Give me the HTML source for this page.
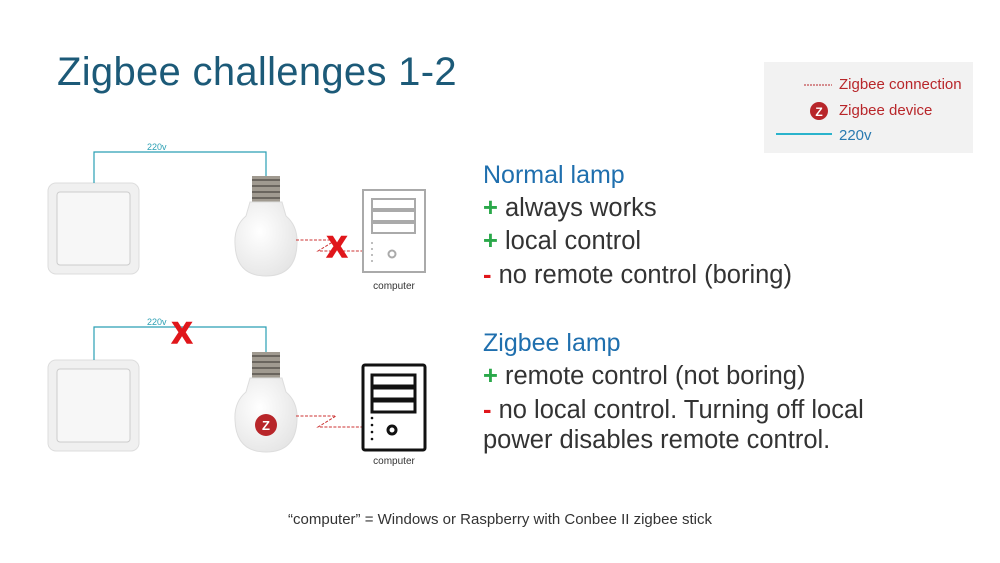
<!DOCTYPE html>
<html><head><meta charset="utf-8"><style>
body{margin:0;width:1000px;height:563px;background:#fff;font-family:"Liberation Sans",sans-serif;position:relative;overflow:hidden}
.t{position:absolute;white-space:nowrap}
.h{color:#1f6fae;font-size:25px}
.l{color:#333;font-size:25.5px}
.p{color:#2aa84a;font-weight:bold}
.m{color:#e0161b;font-weight:bold}
</style></head><body>
<div class="t" style="left:57px;top:50px;font-size:40px;color:#1c5a78;letter-spacing:0.3px">Zigbee challenges 1-2</div>
<div style="position:absolute;left:764px;top:62px;width:209px;height:91px;background:#f2f2f2"></div>
<div class="t" style="left:839px;top:76px;font-size:15px;color:#b8262a">Zigbee connection</div>
<div class="t" style="left:839px;top:102px;font-size:15px;color:#b8262a">Zigbee device</div>
<div class="t" style="left:839px;top:127px;font-size:15px;color:#2a7ab0">220v</div>
<div class="t h" style="left:483px;top:161px">Normal lamp</div>
<div class="t l" style="left:483px;top:194px"><span class="p">+</span> always works</div>
<div class="t l" style="left:483px;top:227px"><span class="p">+</span> local control</div>
<div class="t l" style="left:483px;top:261px"><span class="m">-</span> no remote control (boring)</div>
<div class="t h" style="left:483px;top:329px">Zigbee lamp</div>
<div class="t l" style="left:483px;top:362px"><span class="p">+</span> remote control (not boring)</div>
<div class="t l" style="left:483px;top:396px"><span class="m">-</span> no local control. Turning off local</div>
<div class="t l" style="left:483px;top:426px">power disables remote control.</div>
<div class="t" style="left:0;width:1000px;text-align:center;top:511px;font-size:15px;color:#333">“computer” = Windows or Raspberry with Conbee II zigbee stick</div>
<svg width="1000" height="563" style="position:absolute;left:0;top:0" font-family="Liberation Sans">
<defs>
<radialGradient id="g" cx="0.4" cy="0.4" r="0.7"><stop offset="0" stop-color="#fff"/><stop offset="1" stop-color="#e4e4e4"/></radialGradient>
<g id="sw"><rect x="0" y="0" width="91" height="91" rx="8" fill="#f0f0f0" stroke="#ddd"/><rect x="9" y="9" width="73" height="73" rx="3" fill="#f7f7f7" stroke="#ccc"/></g>
<g id="bulb"><rect x="-14" y="0" width="28" height="26" fill="#a09a90"/><path d="M-14 4h28M-14 10h28M-14 16h28M-14 22h28" stroke="#6a655e" stroke-width="2"/><path d="M-16 26 L16 26 L20 40 Q32 50 31 68 Q30 100 0 100 Q-30 100 -31 68 Q-32 50 -20 40 Z" fill="url(#g)" stroke="#ddd"/></g>
</defs>
<line x1="804" y1="85" x2="832" y2="85" stroke="#b8262a" stroke-dasharray="2 1"/>
<circle cx="819" cy="111" r="9" fill="#b8262a"/><text x="819" y="116" font-size="12" font-weight="bold" fill="#fff" text-anchor="middle">Z</text>
<line x1="776" y1="134" x2="832" y2="134" stroke="#2ab3cc" stroke-width="2"/>
<use href="#sw" x="48" y="183"/><use href="#sw" x="48" y="360"/>
<path d="M94 183V152H266V176" fill="none" stroke="#2a9fb3" stroke-width="1.2"/>
<path d="M94 360V327H266V352" fill="none" stroke="#2a9fb3" stroke-width="1.2"/>
<text x="147" y="150" font-size="9" fill="#2a9fb3">220v</text>
<text x="147" y="325" font-size="9" fill="#2a9fb3">220v</text>
<use href="#bulb" x="266" y="176"/><use href="#bulb" x="266" y="352"/>
<circle cx="266" cy="425" r="11" fill="#b8262a"/><text x="266" y="430" font-size="13" font-weight="bold" fill="#fff" text-anchor="middle">Z</text>
<path d="M296 240H336L318 251H362" fill="none" stroke="#c33" stroke-dasharray="3 1.5"/>
<path d="M296 416H336L318 427H362" fill="none" stroke="#c33" stroke-dasharray="3 1.5"/>
<text x="337" y="257" font-size="30" font-weight="bold" fill="#e0161b" text-anchor="middle" stroke="#e0161b" stroke-width="1.5">X</text>
<text x="182" y="343" font-size="30" font-weight="bold" fill="#e0161b" text-anchor="middle" stroke="#e0161b" stroke-width="1.5">X</text>
<g fill="none" stroke="#aaa" stroke-width="2"><rect x="363" y="190" width="62" height="82"/><rect x="372" y="199" width="43" height="10"/><rect x="372" y="211" width="43" height="10"/><rect x="372" y="223" width="43" height="10"/><circle cx="392" cy="254" r="3.5"/></g>
<g fill="none" stroke="#111" stroke-width="3"><rect x="363" y="365" width="62" height="85" rx="2"/><rect x="372" y="375" width="43" height="11"/><rect x="372" y="388" width="43" height="11"/><rect x="372" y="401" width="43" height="11"/><circle cx="392" cy="430" r="4"/></g>
<g fill="#aaa"><circle cx="372" cy="243" r="1"/><circle cx="372" cy="249" r="1"/><circle cx="372" cy="255" r="1"/><circle cx="372" cy="261" r="1"/></g>
<g fill="#111"><circle cx="372" cy="418" r="1.3"/><circle cx="372" cy="425" r="1.3"/><circle cx="372" cy="432" r="1.3"/><circle cx="372" cy="439" r="1.3"/></g>
<text x="394" y="289" font-size="10" fill="#333" text-anchor="middle">computer</text>
<text x="394" y="464" font-size="10" fill="#333" text-anchor="middle">computer</text>
</svg>
</body></html>
